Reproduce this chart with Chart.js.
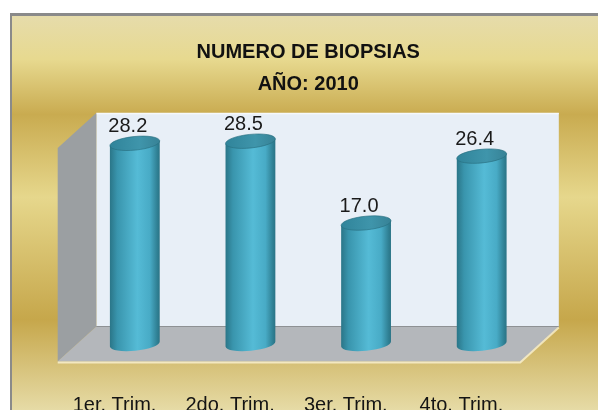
<!DOCTYPE html>
<html>
<head>
<meta charset="utf-8">
<script src="https://cdn.jsdelivr.net/npm/chart.js@4/dist/chart.umd.min.js"></script>
<style>
  html, body { margin: 0; padding: 0; background: #fff; }
  #wrap { width: 598px; height: 410px; position: relative; }
</style>
</head>
<body>
<div id="wrap"><canvas id="biopsiasChart"></canvas></div>
<script>
// datos del grafico
const categorias = ['1er. Trim.', '2do. Trim.', '3er. Trim.', '4to. Trim.'];
const biopsias = [28.2, 28.5, 17.0, 26.4];
const titulo = ['NUMERO DE BIOPSIAS', 'AÑO: 2010'];

// profundidad del efecto 3D (mitad hacia atras, mitad hacia adelante)
const DX = 19.3, DY = 17.5;

const escena = {
  id: 'escena',
  beforeDraw(chart) {
    const { ctx, width, height, chartArea: a } = chart;
    ctx.save();
    ctx.fillStyle = '#ffffff';
    ctx.fillRect(0, 0, width, height);
    // marco gris
    ctx.fillStyle = '#8a8a8a';
    ctx.fillRect(10, 13, width - 10, height - 13);
    // fondo dorado
    const g = ctx.createLinearGradient(0, 16, 0, height);
    g.addColorStop(0, '#e6dcab');
    g.addColorStop(0.11, '#e7d98f');
    g.addColorStop(0.25, '#c9ab50');
    g.addColorStop(0.46, '#e6d78c');
    g.addColorStop(0.77, '#c6a74b');
    g.addColorStop(1, '#e6dba6');
    ctx.fillStyle = g;
    ctx.fillRect(12, 16, width - 12, height - 16);

    // pared del fondo
    ctx.fillStyle = '#e8eff7';
    ctx.fillRect(a.left + DX, a.top - DY, a.right - a.left, a.bottom - a.top);
    ctx.strokeStyle = '#f6f9fc';
    ctx.lineWidth = 1.5;
    ctx.beginPath();
    ctx.moveTo(a.left + DX, a.top - DY + 0.5);
    ctx.lineTo(a.right + DX, a.top - DY + 0.5);
    ctx.stroke();

    // pared izquierda
    ctx.fillStyle = '#9b9fa2';
    ctx.beginPath();
    ctx.moveTo(a.left + DX, a.top - DY);
    ctx.lineTo(a.left - DX, a.top + DY);
    ctx.lineTo(a.left - DX, a.bottom + DY);
    ctx.lineTo(a.left + DX, a.bottom - DY);
    ctx.closePath();
    ctx.fill();

    // piso
    ctx.fillStyle = '#b4b7bb';
    ctx.beginPath();
    ctx.moveTo(a.left + DX, a.bottom - DY);
    ctx.lineTo(a.right + DX, a.bottom - DY);
    ctx.lineTo(a.right - DX, a.bottom + DY);
    ctx.lineTo(a.left - DX, a.bottom + DY);
    ctx.closePath();
    ctx.fill();
    ctx.strokeStyle = '#8e9194';
    ctx.lineWidth = 1;
    ctx.beginPath();
    ctx.moveTo(a.left + DX, a.bottom - DY);
    ctx.lineTo(a.right + DX, a.bottom - DY);
    ctx.stroke();
    ctx.strokeStyle = 'rgba(255,250,225,0.7)';
    ctx.lineWidth = 2;
    ctx.beginPath();
    ctx.moveTo(a.left - DX, a.bottom + DY + 1);
    ctx.lineTo(a.right - DX, a.bottom + DY + 1);
    ctx.lineTo(a.right + DX, a.bottom - DY + 1);
    ctx.stroke();
    ctx.restore();
  },
  afterDatasetsDraw(chart) {
    const { ctx } = chart;
    const meta = chart.getDatasetMeta(0);
    const rot = -0.1;
    ctx.save();
    meta.data.forEach((bar, i) => {
      const rx = bar.width / 2, ry = 6.8;
      const cx = bar.x, top = bar.y, base = bar.base;
      const c = Math.cos(rot) * rx, s = Math.sin(rot) * rx;
      // cuerpo del cilindro
      const g = ctx.createLinearGradient(cx - rx, 0, cx + rx, 0);
      g.addColorStop(0, '#2a7587');
      g.addColorStop(0.15, '#3995ad');
      g.addColorStop(0.55, '#55bbd6');
      g.addColorStop(0.8, '#48abc6');
      g.addColorStop(0.95, '#2f7f93');
      g.addColorStop(1, '#2a7385');
      ctx.fillStyle = g;
      ctx.beginPath();
      ctx.ellipse(cx, base, rx, ry, rot, Math.PI, 0, true);
      ctx.lineTo(cx + c, top + s);
      ctx.lineTo(cx - c, top - s);
      ctx.closePath();
      ctx.fill();
      // tapa superior
      const gt = ctx.createLinearGradient(cx - rx, 0, cx + rx, 0);
      gt.addColorStop(0, '#30849a');
      gt.addColorStop(0.6, '#3f95ab');
      gt.addColorStop(1, '#378296');
      ctx.fillStyle = gt;
      ctx.beginPath();
      ctx.ellipse(cx, top, rx, ry, rot, 0, Math.PI * 2);
      ctx.fill();
      ctx.strokeStyle = 'rgba(40,110,128,0.8)';
      ctx.lineWidth = 0.8;
      ctx.stroke();
      // etiqueta de valor
      ctx.fillStyle = '#1a1a1a';
      ctx.font = '20px "Liberation Sans", Arial, sans-serif';
      ctx.textAlign = 'center';
      ctx.textBaseline = 'alphabetic';
      ctx.fillText(biopsias[i].toFixed(1), cx - 7, top - 11);
    });
    // etiquetas de categoria, en el plano frontal
    const xs = chart.scales.x;
    ctx.fillStyle = '#141414';
    ctx.font = '20px "Liberation Sans", Arial, sans-serif';
    ctx.textAlign = 'center';
    ctx.textBaseline = 'middle';
    categorias.forEach((lab, i) => {
      ctx.fillText(lab, xs.getPixelForValue(i) - DX - 1, 405);
    });
    ctx.restore();
  }
};

new Chart(document.getElementById('biopsiasChart'), {
  type: 'bar',
  data: {
    labels: categorias,
    datasets: [{
      label: 'Biopsias',
      data: biopsias,
      backgroundColor: 'rgba(0,0,0,0)',
      borderWidth: 0,
      barPercentage: 0.433,
      categoryPercentage: 1
    }]
  },
  options: {
    responsive: true,
    maintainAspectRatio: false,
    animation: false,
    events: [],
    layout: { padding: { left: 77, right: 58.5, top: 0, bottom: 66 } },
    scales: {
      x: { display: false },
      y: { display: false, min: 0, max: 30 }
    },
    plugins: {
      legend: { display: false },
      tooltip: { enabled: false },
      title: {
        display: true,
        text: titulo,
        color: '#111111',
        font: { family: "'Liberation Sans', Arial, sans-serif", size: 20, weight: 'bold', lineHeight: 1.6 },
        padding: { top: 36.5, bottom: 30 }
      }
    }
  },
  plugins: [escena]
});
</script>
</body>
</html>
